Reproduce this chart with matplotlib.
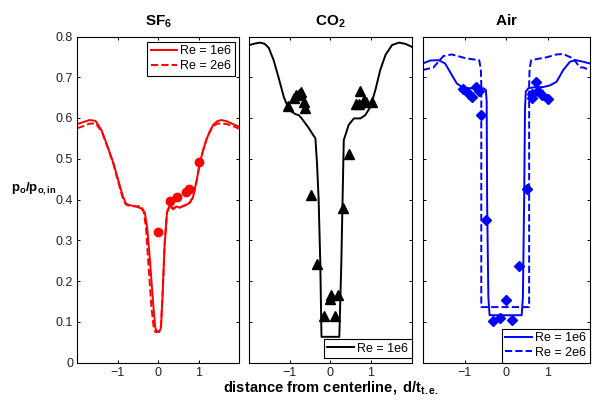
import matplotlib
matplotlib.use("Agg")
import matplotlib.pyplot as plt

# wake total pressure profiles, three gases

plt.rcParams['font.family'] = ['Liberation Sans', 'DejaVu Sans']
plt.rcParams['mathtext.fontset'] = 'custom'
plt.rcParams['mathtext.rm'] = 'Liberation Sans'
plt.rcParams['mathtext.it'] = 'Liberation Sans:italic'
plt.rcParams['mathtext.bf'] = 'Liberation Sans:bold'

# ---- data ----
sf6_x1 = [-2.0, -1.85, -1.7, -1.55, -1.4, -1.25, -1.1, -0.98, -0.88, -0.80, -0.70, -0.55,
          -0.42, -0.33, -0.27, -0.20, -0.12, -0.07, -0.03, 0.03, 0.07, 0.11, 0.16, 0.22,
          0.29, 0.37, 0.45, 0.53, 0.62, 0.70, 0.78, 0.86, 0.95, 1.03, 1.11, 1.19, 1.28,
          1.36, 1.46, 1.56, 1.7, 1.85, 2.0]
sf6_y1 = [0.585, 0.590, 0.595, 0.593, 0.570, 0.530, 0.487, 0.445, 0.410, 0.390, 0.386, 0.383,
          0.378, 0.368, 0.330, 0.247, 0.140, 0.085, 0.076, 0.076, 0.085, 0.165, 0.290, 0.370,
          0.386, 0.378, 0.383, 0.380, 0.384, 0.387, 0.392, 0.405, 0.445, 0.489, 0.520, 0.546,
          0.568, 0.583, 0.592, 0.595, 0.592, 0.585, 0.579]
sf6_x2 = [-2.0, -1.85, -1.7, -1.55, -1.4, -1.25, -1.1, -0.98, -0.88, -0.80, -0.70, -0.55,
          -0.42, -0.36, -0.30, -0.24, -0.17, -0.11, -0.07, 0.02, 0.07, 0.11, 0.16, 0.22,
          0.29, 0.37, 0.45, 0.53, 0.62, 0.70, 0.78, 0.86, 0.95, 1.03, 1.11, 1.19, 1.28,
          1.36, 1.46, 1.56, 1.7, 1.85, 2.0]
sf6_y2 = [0.575, 0.580, 0.586, 0.587, 0.568, 0.528, 0.485, 0.440, 0.405, 0.388, 0.384, 0.383,
          0.384, 0.372, 0.330, 0.240, 0.140, 0.085, 0.075, 0.075, 0.090, 0.170, 0.290, 0.368,
          0.384, 0.376, 0.382, 0.380, 0.384, 0.387, 0.392, 0.405, 0.445, 0.489, 0.520, 0.546,
          0.566, 0.580, 0.586, 0.587, 0.585, 0.580, 0.574]
sf6_px = [0.0, 0.29, 0.47, 0.70, 0.76, 1.01]
sf6_py = [0.320, 0.397, 0.405, 0.418, 0.425, 0.493]

co2_x = [-2.0, -1.85, -1.73, -1.62, -1.52, -1.40, -1.28, -1.15, -1.07, -0.95, -0.85, -0.78,
         -0.70, -0.62, -0.53, -0.45, -0.37, -0.33, -0.29, -0.25, -0.22, 0.22, 0.27, 0.30,
         0.33, 0.37, 0.45, 0.58, 0.74, 0.86, 0.99, 1.11, 1.23, 1.36, 1.52, 1.69, 1.85, 2.0]
co2_y = [0.779, 0.783, 0.785, 0.782, 0.772, 0.742, 0.700, 0.652, 0.632, 0.615, 0.609, 0.607,
         0.598, 0.587, 0.575, 0.562, 0.550, 0.489, 0.400, 0.247, 0.063, 0.063, 0.247, 0.400,
         0.546, 0.558, 0.583, 0.599, 0.599, 0.607, 0.628, 0.669, 0.718, 0.755, 0.779, 0.785,
         0.782, 0.775]
co2_px = [-1.04, -0.90, -0.86, -0.78, -0.72, -0.66, -0.62, -0.49, -0.33, -0.15, 0.0, 0.02,
          0.11, 0.19, 0.31, 0.47, 0.62, 0.70, 0.72, 0.84, 0.88, 1.03]
co2_py = [0.629, 0.648, 0.656, 0.660, 0.665, 0.640, 0.624, 0.410, 0.241, 0.115, 0.157, 0.166,
          0.115, 0.166, 0.378, 0.511, 0.634, 0.634, 0.667, 0.645, 0.640, 0.640]

air_x1 = [-2.0, -1.83, -1.63, -1.47, -1.31, -1.19, -1.05, -0.87, -0.67, -0.55, -0.49, -0.47,
          -0.46, -0.43, -0.40, 0.37, 0.40, 0.43, 0.45, 0.47, 0.53, 0.65, 0.89, 1.05, 1.21,
          1.37, 1.53, 1.67, 1.85, 2.0]
air_y1 = [0.734, 0.741, 0.742, 0.734, 0.706, 0.685, 0.675, 0.673, 0.673, 0.673, 0.669, 0.640,
          0.400, 0.160, 0.116, 0.116, 0.160, 0.400, 0.620, 0.665, 0.673, 0.675, 0.676, 0.680,
          0.689, 0.718, 0.738, 0.742, 0.738, 0.734]
air_x2 = [-2.0, -1.75, -1.51, -1.31, -0.95, -0.65, -0.61, -0.60, -0.60, 0.55, 0.55, 0.56,
          0.60, 0.97, 1.21, 1.37, 1.61, 1.77, 1.85, 2.0]
air_y2 = [0.718, 0.724, 0.752, 0.756, 0.746, 0.742, 0.720, 0.680, 0.136, 0.136, 0.680, 0.720,
          0.742, 0.749, 0.756, 0.757, 0.746, 0.724, 0.724, 0.718]
air_px = [-1.05, -0.89, -0.83, -0.73, -0.65, -0.61, -0.49, -0.31, -0.15, 0.0, 0.15, 0.30,
          0.49, 0.61, 0.63, 0.71, 0.77, 0.87, 1.01]
air_py = [0.670, 0.660, 0.652, 0.675, 0.666, 0.607, 0.350, 0.102, 0.108, 0.153, 0.104, 0.237,
          0.425, 0.660, 0.650, 0.688, 0.666, 0.656, 0.646]

yticks = [0, 0.1, 0.2, 0.3, 0.4, 0.5, 0.6, 0.7, 0.8]
ytick_labels = ['0', '0.1', '0.2', '0.3', '0.4', '0.5', '0.6', '0.7', '0.8']
xticks = [-1, 0, 1]
titles = [r'$\mathbf{SF_6}$', r'$\mathbf{CO_2}$', r'$\mathbf{Air}$']

# ---- figure ----
W, H = 592, 403
fig = plt.figure(figsize=(W / 100, H / 100), dpi=100)

def px_axes(left, right, top=36.5, bottom=362.5):
    return fig.add_axes([left / W, 1 - bottom / H, (right - left) / W, (bottom - top) / H])

ax1 = px_axes(77.3, 239.0)
ax2 = px_axes(249.3, 411.5)
ax3 = px_axes(423.0, 589.5)
axes = [ax1, ax2, ax3]

lw = 1.4
ax1.plot(sf6_x1, sf6_y1, '-', color='red', lw=lw, label='Re = 1e6')
ax1.plot(sf6_x2, sf6_y2, '--', color='red', lw=lw, label='Re = 2e6')
ax1.plot(sf6_px, sf6_py, 'o', color='red', ms=6, label='_nolegend_')

ax2.plot(co2_x, co2_y, '-', color='black', lw=lw, label='Re = 1e6')
ax2.plot(co2_px, co2_py, '^', color='black', ms=6.5, label='_nolegend_')

ax3.plot(air_x1, air_y1, '-', color='blue', lw=lw, label='Re = 1e6')
ax3.plot(air_x2, air_y2, '--', color='blue', lw=lw, label='Re = 2e6')
ax3.plot(air_px, air_py, 'D', color='blue', ms=5, label='_nolegend_')

for i, ax in enumerate(axes):
    ax.set_xlim(-2.0, 2.0)
    ax.set_ylim(0, 0.8)
    ax.set_xticks(xticks)
    ax.set_yticks(yticks)
    ax.tick_params(direction='in', top=True, right=True, length=2.4, width=0.7,
                   labelsize=9, labelcolor='#222222', pad=3)
    for sp in ax.spines.values():
        sp.set_linewidth(0.8)
        sp.set_color('black')
    if i == 0:
        ax.set_yticklabels(ytick_labels)
    else:
        ax.set_yticklabels([])
    ax.set_title(titles[i], fontsize=11, pad=8)

leg_kw = dict(fontsize=9, handlelength=2.1, handletextpad=0.25, borderpad=0.3,
              labelspacing=0.2, borderaxespad=0.0, fancybox=False, framealpha=1,
              edgecolor='black')
l1 = ax1.legend(loc='upper right', bbox_to_anchor=(0.975, 0.984), **leg_kw)
l2 = ax2.legend(loc='lower right', bbox_to_anchor=(1.0, 0.013), **leg_kw)
l3 = ax3.legend(loc='lower right', bbox_to_anchor=(1.0, 0.0), **leg_kw)
for lg in (l1, l2, l3):
    lg.get_frame().set_linewidth(0.8)

# y label sits horizontally left of the 0.4 tick label
fig.text(11 / W, 1 - 189 / H, r'$\mathbf{p_o/p_{o,in}}$', fontsize=9.5,
         ha='left', va='center')
fig.text(331 / W, 1 - 391 / H, r'$\mathbf{distance\ from\ centerline,\ d/t_{t.e.}}$',
         fontsize=10.5, ha='center', va='baseline')

fig.savefig('out.png', dpi=100)
